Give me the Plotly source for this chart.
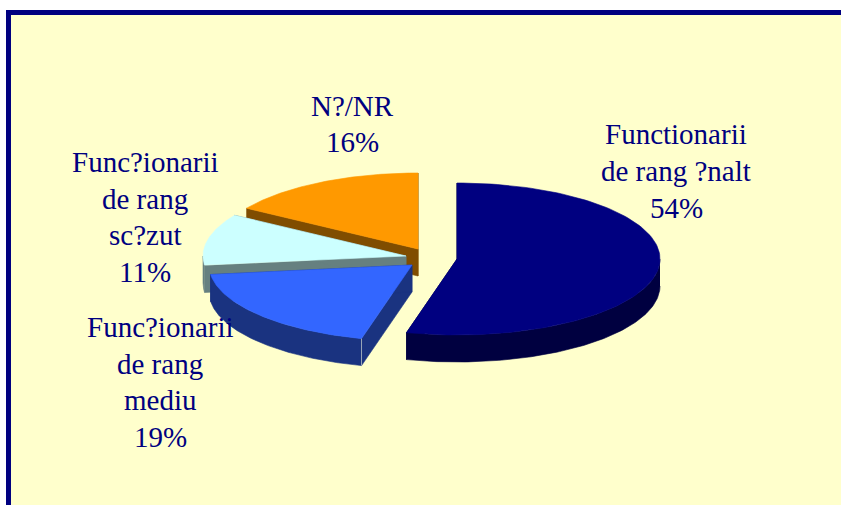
import numpy as np
import plotly.graph_objects as go

# ---- data ----
categories = ["Functionarii|de rang ?nalt", "Func?ionarii|de rang|mediu",
              "Func?ionarii|de rang|sc?zut", "N?/NR"]
values = [54, 19, 11, 16]

# ---- styles / layout ----
top_colors = ["#000080", "#3366FF", "#CCFFFF", "#FF9900"]
wall_colors = ["#000040", "#1A3380", "#668080", "#804D00"]
centers = [(457, 259), (412, 265), (406, 256), (418, 249)]
label_pos = [(676, 171), (160, 382), (145, 217), (352, 124)]
LINE_PITCH = 36.6
RX, RY, DEPTH = 203, 76, 27
BG = "#FFFFCC"
NAVY = "#000080"
W, H = 841, 505


def rim(c, a0, a1, n=120):
    t = np.linspace(a0, a1, n)
    return c[0] + RX * np.sin(t), c[1] - RY * np.cos(t)


def poly(fig, x, y, color, edge=None, width=0.6):
    fig.add_trace(go.Scatter(x=list(x), y=list(y), mode="lines", fill="toself",
                             fillcolor=color,
                             line=dict(color=edge or color, width=width),
                             hoverinfo="skip", showlegend=False))


fig = go.Figure()
frac = np.cumsum([0] + values) / sum(values) * 2 * np.pi
# paint back to front: orange, cyan, blue, navy
for i in [3, 2, 1, 0]:
    a0, a1 = frac[i], frac[i + 1]
    c = centers[i]
    rx, ry = rim(c, a0, a1)
    wall = wall_colors[i]
    edge = "#9AA6B8" if i == 1 else None
    # walls of the two cut faces
    for a in (a0, a1):
        ex, ey = rim(c, a, a, 1)
        poly(fig, [c[0], ex[0], ex[0], c[0], c[0]],
             [c[1], ey[0], ey[0] + DEPTH, c[1] + DEPTH, c[1]], wall)
    # outer curved wall (front half only)
    lo, hi = max(a0, np.pi / 2), min(a1, 3 * np.pi / 2)
    if hi > lo:
        wx, wy = rim(c, lo, hi)
        poly(fig, np.r_[wx, wx[::-1]], np.r_[wy, wy[::-1] + DEPTH], wall)
    # top face
    poly(fig, np.r_[c[0], rx, c[0]], np.r_[c[1], ry, c[1]], top_colors[i])
    if i == 1:
        ex, ey = rim(c, a0, a0, 1)
        fig.add_trace(go.Scatter(x=[ex[0], ex[0]], y=[ey[0], ey[0] + DEPTH], mode="lines",
                                 line=dict(color=edge, width=1), hoverinfo="skip",
                                 showlegend=False))

annotations = []
for cat, v, p in zip(categories, values, label_pos):
    lines = cat.split("|") + [f"{v}%"]
    for k, line in enumerate(lines):
        annotations.append(dict(
            x=p[0], y=p[1] + (k - (len(lines) - 1) / 2) * LINE_PITCH,
            xref="x", yref="y", text=line, showarrow=False,
            xanchor="center", yanchor="middle", align="center",
            font=dict(family="Liberation Serif", size=29, color=NAVY)))

fig.update_layout(
    width=W, height=H, margin=dict(l=0, r=0, t=0, b=0),
    paper_bgcolor="white", plot_bgcolor="white", showlegend=False,
    xaxis=dict(range=[0, W], visible=False, fixedrange=True),
    yaxis=dict(range=[H, 0], visible=False, fixedrange=True),
    annotations=annotations,
    shapes=[
        dict(type="rect", xref="x", yref="y", x0=6, x1=W + 5, y0=10, y1=H + 5,
             fillcolor=NAVY, line_width=0, layer="below"),
        dict(type="rect", xref="x", yref="y", x0=11, x1=W + 5, y0=15, y1=H + 5,
             fillcolor=BG, line_width=0, layer="below"),
    ],
)
fig.write_html("out.html", config={"displayModeBar": False},
               post_script="document.body.style.margin='0';")
